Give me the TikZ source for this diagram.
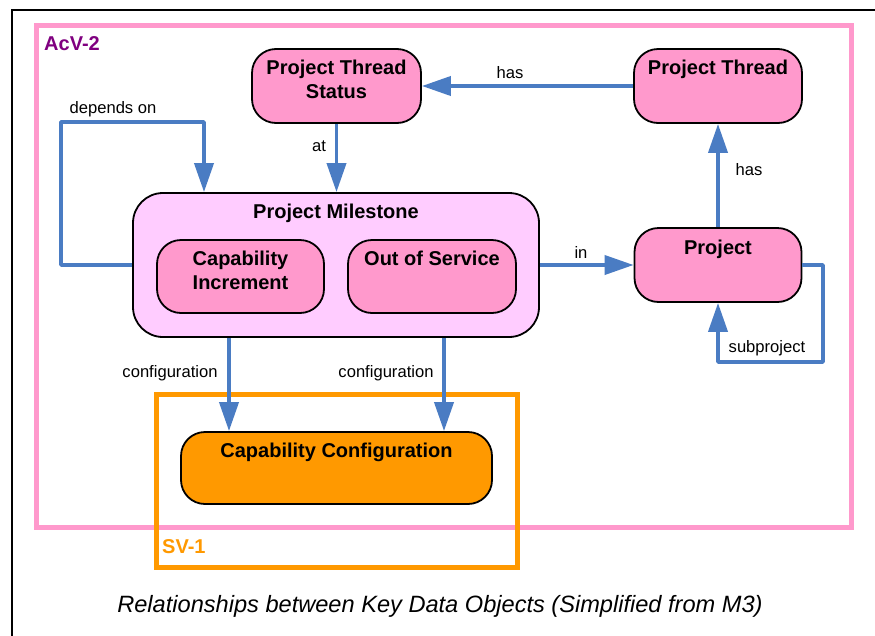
\documentclass[tikz,border=0pt]{standalone}
\usepackage{fontspec}
\setmainfont{Liberation Sans}
\usetikzlibrary{arrows.meta}
\definecolor{pinkfill}{HTML}{FF99CC}
\definecolor{msfill}{HTML}{FFCCFF}
\definecolor{orangefill}{HTML}{FF9900}
\definecolor{conncol}{HTML}{4A7CC3}
\definecolor{purplelbl}{HTML}{800080}
\newcommand{\twolines}[2]{\begin{tabular}[t]{@{}c@{}}#1\\#2\end{tabular}}
\begin{document}
\begin{tikzpicture}[x=1pt,y=-1pt,
  pinkbox/.style={draw=black, line width=1.8pt, fill=pinkfill, rounded corners=24pt, inner sep=0pt},
  msbox/.style={draw=black, line width=1.8pt, fill=msfill, rounded corners=30pt, inner sep=0pt},
  ccbox/.style={draw=black, line width=1.8pt, fill=orangefill, rounded corners=24pt, inner sep=0pt},
  title/.style={font=\bfseries\fontsize{20}{24}\selectfont, inner sep=0pt, anchor=base},
  conn/.style={draw=conncol, line width=3.8pt, line join=round},
  arr/.style={conn, -{Triangle[length=29pt,width=19pt]}},
  lbl/.style={font=\fontsize{16.6}{19}\selectfont, inner sep=0pt},
  frametxt/.style={font=\bfseries\fontsize{20}{24}\selectfont, inner sep=0pt, anchor=west}
]
\useasboundingbox (0,0) rectangle (875,635);
\fill[white] (0,0) rectangle (875,635);
% outer black frame
\draw[line width=1.5pt] (12,640) -- (12,10) -- (880,10);
% AcV-2 frame
\draw[draw=pinkfill, line width=5pt] (36,25) rectangle (851,527);
\node[frametxt, text=purplelbl] (acv) at (44,44) {AcV-2};

% nodes
\node[pinkbox, minimum width=169pt, minimum height=74pt] (pts) at (336.5,86) {};
\node[title] (ptst) at ([yshift=-26pt]pts.north) {\twolines{Project Thread}{Status}};
\node[pinkbox, minimum width=168pt, minimum height=74pt] (pt) at (718,86) {};
\node[title] (ptt) at ([yshift=-26pt]pt.north) {Project Thread};
\node[msbox, minimum width=406pt, minimum height=144pt] (pm) at (336,265) {};
\node[title] (pmt) at ([yshift=-26pt]pm.north) {Project Milestone};
\node[pinkbox, minimum width=167pt, minimum height=73pt] (ci) at (240.5,276.5) {};
\node[title] (cit) at ([yshift=-26pt]ci.north) {\twolines{Capability}{Increment}};
\node[pinkbox, minimum width=168pt, minimum height=73pt] (oos) at (432,276.5) {};
\node[title] (oost) at ([yshift=-26pt]oos.north) {Out of Service};
\node[pinkbox, minimum width=167pt, minimum height=74pt] (prj) at (718,265) {};
\node[title] (prjt) at ([yshift=-27pt]prj.north) {Project};

% SV-1 frame
\draw[draw=orangefill, line width=5pt] (156,394) rectangle (517,567);
\node[frametxt, text=orangefill] (sv) at (162,547) {SV-1};
\node[ccbox, minimum width=311pt, minimum height=72pt] (cc) at (336.5,468) {};
\node[title] (cct) at ([yshift=-26pt]cc.north) {Capability Configuration};

% connectors
\draw[arr] (pt.west) -- (pts.east);
\node[lbl] (lhas1) at (510,73) {has};
\draw[arr] (prj.north) -- (pt.south);
\node[lbl] (lhas2) at (749,170) {has};
\draw[arr] (pts.south) -- (pm.north -| pts.south);
\node[lbl] (lat) at (319,146) {at};
\coordinate (d1) at (61,265);
\coordinate (d2) at (61,122);
\coordinate (d3) at (204,122);
\draw[arr] (pm.west) -- (d1) -- (d2) -- (d3) -- (pm.north -| d3);
\node[lbl] (ldep) at (113,109) {depends on};
\draw[arr] (pm.east) -- (prj.west);
\node[lbl] (lin) at (581,252) {in};
\coordinate (s1) at (823,265);
\coordinate (s2) at (823,362);
\coordinate (s3) at (718,362);
\draw[arr] (prj.east) -- (s1) -- (s2) -- (s3) -- (prj.south);
\node[lbl] (lsub) at (767,348) {subproject};
\coordinate (c1) at (229,0);
\coordinate (c2) at (444,0);
\draw[arr] (pm.south -| c1) -- (cc.north -| c1);
\draw[arr] (pm.south -| c2) -- (cc.north -| c2);
\node[lbl] (lconf1) at (170,373) {configuration};
\node[lbl] (lconf2) at (386,373) {configuration};

% caption
\node[font=\itshape\fontsize{23.6}{28}\selectfont, inner sep=0pt, anchor=base] (cap) at (440,612) {Relationships between Key Data Objects (Simplified from M3)};
\end{tikzpicture}
\end{document}
